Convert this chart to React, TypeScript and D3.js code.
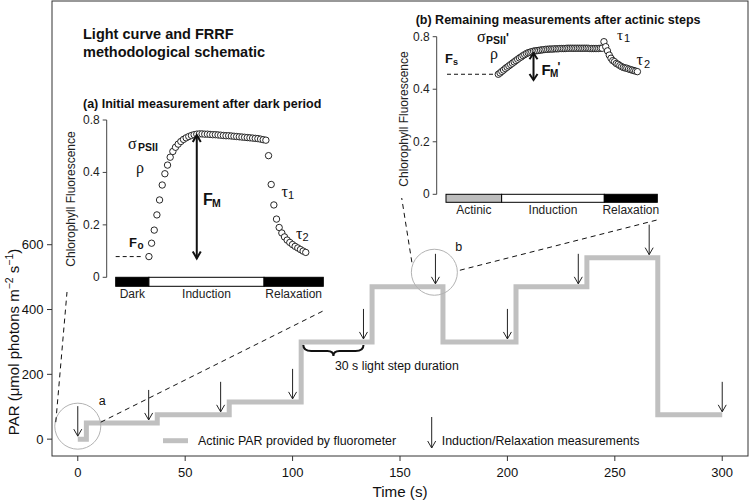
import React from 'react';
import * as d3 from 'd3';

const W = 750;
const H = 502;
const SANS = "'Liberation Sans', Arial, Helvetica, sans-serif";
const SERIF = "'Liberation Serif', 'Times New Roman', serif";

// ---------- main panel data ----------
const stepStartTimes = [0, 4, 37, 70.5, 104, 137, 170, 204, 237, 270];
const stepEndTime = 300;
const stepPar = [0, 50, 75, 115, 300, 470, 300, 470, 560, 75];
const measurementTimes = [0, 33, 66.5, 100, 133, 166.5, 200, 233, 266, 300];
const xTicks = [0, 50, 100, 150, 200, 250, 300];
const yTicks = [0, 200, 400, 600];
const zoomLabels = ['a', 'b'];
const zoomTimes = [0, 166];
const zoomPar = [40, 515];
const braceTimes = [105, 133];
const braceLabel = '30 s light step duration';

// ---------- inset (a) data ----------
const insetTicks = [0, 0.2, 0.4, 0.6];
const insetTickLabels = ['0', '0.2', '0.4', '0.8'];
const insetAPhases = ['Dark', 'Induction', 'Relaxation'];
const insetAPhaseBounds = [-12.5, 0, 43.3, 65.6];
const insetAPhaseFills = ['#000000', '#ffffff', '#000000'];
const insetAInduction = [
  0.079, 0.13, 0.18, 0.238, 0.295, 0.352, 0.395, 0.428, 0.458, 0.48, 0.496, 0.508, 0.518, 0.526, 0.532,
  0.537, 0.541, 0.544, 0.546, 0.547, 0.547, 0.546, 0.546, 0.545, 0.544, 0.544, 0.543, 0.542, 0.541, 0.54,
  0.54, 0.539, 0.538, 0.537, 0.536, 0.535, 0.534, 0.533, 0.532, 0.531, 0.53, 0.529, 0.527, 0.525, 0.523,
];
const insetARelaxation = [
  0.464, 0.354, 0.276, 0.222, 0.19, 0.169, 0.154, 0.142, 0.133, 0.125, 0.118, 0.112, 0.106, 0.1, 0.095,
];
const insetAFo = 0.079;
const insetAFmArrow = { idx: 18, from: 0.072, to: 0.543 };

// ---------- inset (b) data ----------
const insetBPhases = ['Actinic', 'Induction', 'Relaxation'];
const insetBPhaseBounds = [-29.7, 1.9, 60.2, 90.3];
const insetBPhaseFills = ['#bdbdbd', '#ffffff', '#000000'];
const insetBInduction = [
  0.457, 0.462, 0.468, 0.473, 0.479, 0.484, 0.489, 0.494, 0.499, 0.504, 0.509, 0.514, 0.519, 0.523, 0.528,
  0.532, 0.536, 0.539, 0.541, 0.543, 0.545, 0.546, 0.547, 0.548, 0.549, 0.55, 0.551, 0.552, 0.552, 0.553,
  0.553, 0.553, 0.554, 0.554, 0.554, 0.555, 0.555, 0.555, 0.555, 0.556, 0.556, 0.556, 0.556, 0.556, 0.556,
  0.556, 0.556, 0.556, 0.556, 0.556, 0.556, 0.556, 0.555, 0.555, 0.555, 0.555, 0.555, 0.555, 0.556, 0.556,
];
const insetBRelaxation = [
  0.581, 0.562, 0.546, 0.53, 0.518, 0.509, 0.505, 0.498, 0.495, 0.49, 0.486, 0.483, 0.481, 0.48, 0.477,
  0.475, 0.473, 0.471, 0.469, 0.467,
];
const insetBFs = 0.457;
const insetBFmArrow = { idx: 20, from: 0.435, to: 0.537 };

function parAt(t: number) {
  let v = stepPar[0];
  stepStartTimes.forEach((s, i) => {
    if (t >= s) v = stepPar[i];
  });
  return v;
}

function DownArrow({ x, y1, y2, color = '#222', w = 1, head = 4, hl = 7 }: any) {
  return (
    <g stroke={color} strokeWidth={w} fill="none">
      <line x1={x} y1={y1} x2={x} y2={y2} />
      <polyline points={`${x - head},${y2 - hl} ${x},${y2} ${x + head},${y2 - hl}`} />
    </g>
  );
}

function Inset({ xs, ys, phases, bounds, fills, values, axisX, titleX, titleY, barH }: any) {
  const y0 = ys(0);
  return (
    <g>
      <line x1={axisX} x2={axisX} y1={ys(0)} y2={ys(0.6)} stroke="#444" strokeWidth={1} />
      {insetTicks.map((t, i) => (
        <g key={i}>
          <line x1={axisX - 4} x2={axisX} y1={ys(t)} y2={ys(t)} stroke="#444" />
          <text x={axisX - 7} y={ys(t) + 4} textAnchor="end" fontSize={12} fontFamily={SANS} fill="#222">
            {insetTickLabels[i]}
          </text>
        </g>
      ))}
      <text
        transform={`translate(${titleX},${titleY}) rotate(-90)`}
        textAnchor="middle"
        fontSize={12}
        fontFamily={SANS}
        fill="#222"
      >
        Chlorophyll Fluorescence
      </text>
      {phases.map((p: string, i: number) => (
        <g key={p}>
          <rect
            x={xs(bounds[i])}
            y={y0}
            width={xs(bounds[i + 1]) - xs(bounds[i])}
            height={barH}
            fill={fills[i]}
            stroke="#000"
            strokeWidth={1}
          />
          <text
            x={(xs(bounds[i]) + xs(bounds[i + 1])) / 2}
            y={y0 + barH + 12}
            textAnchor="middle"
            fontSize={12}
            fontFamily={SANS}
            fill="#222"
          >
            {p}
          </text>
        </g>
      ))}
      {values.map((v: number, i: number) => (
        <circle key={i} cx={xs(i)} cy={ys(v)} r={3.2} fill="#fff" stroke="#111" strokeWidth={0.9} />
      ))}
    </g>
  );
}

export default function App() {
  const x = d3.scaleLinear().domain([-12, 312]).range([52, 748]);
  const y = d3.scaleLinear().domain([-52, 1352]).range([456, 1]);

  const stepPts: [number, number][] = stepStartTimes.map((t, i) => [t, stepPar[i]]);
  stepPts.push([stepEndTime, stepPar[stepPar.length - 1]]);
  const stepLine = d3
    .line<[number, number]>()
    .x((d) => x(d[0]))
    .y((d) => y(d[1]))
    .curve(d3.curveStepAfter)(stepPts) as string;

  // inset scales
  const xa = d3.scaleLinear().domain([insetAPhaseBounds[0], insetAPhaseBounds[3]]).range([115.7, 323.3]);
  const ya = d3.scaleLinear().domain([0, 0.6]).range([277.3, 120]);
  const xb = d3.scaleLinear().domain([insetBPhaseBounds[0], insetBPhaseBounds[3]]).range([446, 657.3]);
  const yb = d3.scaleLinear().domain([0, 0.6]).range([194.3, 36.7]);

  const valuesA = [...insetAInduction, ...insetARelaxation];
  const valuesB = [...insetBInduction, ...insetBRelaxation];

  // brace
  const bx1 = x(braceTimes[0]);
  const bx2 = x(braceTimes[1]);
  const bm = (bx1 + bx2) / 2;
  const byT = y(parAt(braceTimes[0])) + 3;
  const byM = byT + 6;
  const byB = byT + 11;
  const bracePath = `M${bx1},${byT} Q${bx1},${byM} ${bx1 + 8},${byM} L${bm - 6},${byM} Q${bm},${byM} ${bm},${byB} Q${bm},${byM} ${bm + 6},${byM} L${bx2 - 8},${byM} Q${bx2},${byM} ${bx2},${byT}`;

  const ca = { cx: x(zoomTimes[0]), cy: y(zoomPar[0]) };
  const cb = { cx: x(zoomTimes[1]), cy: y(zoomPar[1]) };

  return (
    <svg
      width={W}
      height={H}
      style={{ position: 'absolute', left: 0, top: 0, background: '#fff' }}
      fontFamily={SANS}
    >
      <rect x={0} y={0} width={W} height={H} fill="#fff" />
      {/* frame */}
      <rect x={52} y={1} width={696} height={455} fill="none" stroke="#333" strokeWidth={1} />

      {/* axes */}
      {xTicks.map((t) => (
        <g key={t}>
          <line x1={x(t)} x2={x(t)} y1={456} y2={461} stroke="#333" />
          <text x={x(t)} y={477} textAnchor="middle" fontSize={13} fill="#111">
            {t}
          </text>
        </g>
      ))}
      {yTicks.map((t) => (
        <g key={t}>
          <line x1={47} x2={52} y1={y(t)} y2={y(t)} stroke="#333" />
          <text x={43.5} y={y(t) + 4.5} textAnchor="end" fontSize={13} fill="#111">
            {t}
          </text>
        </g>
      ))}
      <text x={x(150)} y={497} textAnchor="middle" fontSize={15.2} fill="#111">
        Time (s)
      </text>
      <text transform={`translate(19,${y(300)}) rotate(-90)`} textAnchor="middle" fontSize={15} fill="#111">
        PAR (μmol photons m
        <tspan fontSize={10.5} dy={-6}>
          −2
        </tspan>
        <tspan dy={6}> s</tspan>
        <tspan fontSize={10.5} dy={-6}>
          −1
        </tspan>
        <tspan dy={6}>)</tspan>
      </text>

      {/* step line */}
      <path d={stepLine} fill="none" stroke="#c0c0c0" strokeWidth={5} strokeLinejoin="miter" />

      {/* measurement arrows */}
      {measurementTimes.map((t, i) => {
        const tip = y(parAt(t)) - 3;
        return <DownArrow key={i} x={x(t)} y1={tip - 30} y2={tip} />;
      })}

      {/* zoom circles */}
      {zoomLabels.map((l, i) => (
        <g key={l}>
          <circle cx={x(zoomTimes[i])} cy={y(zoomPar[i])} r={23} fill="none" stroke="#b3b3b3" strokeWidth={1} />
          <text x={x(zoomTimes[i]) + 21} y={y(zoomPar[i]) - 21} fontSize={12.5} fill="#111">
            {l}
          </text>
        </g>
      ))}

      {/* dashed connectors */}
      <g stroke="#111" strokeWidth={1} strokeDasharray="5,4" fill="none">
        <line x1={ca.cx - 22} y1={ca.cy - 4} x2={67} y2={292} />
        <line x1={ca.cx + 23} y1={ca.cy - 4} x2={325} y2={310} />
        <line x1={cb.cx - 22.5} y1={cb.cy - 10} x2={401.7} y2={198} />
        <line x1={cb.cx + 25.5} y1={cb.cy - 2} x2={657} y2={220} />
      </g>

      {/* brace */}
      <path d={bracePath} fill="none" stroke="#111" strokeWidth={2} />
      <text x={335} y={370} fontSize={12.3} fill="#111">
        {braceLabel}
      </text>

      {/* legend */}
      <line x1={163} x2={188} y1={440.7} y2={440.7} stroke="#c0c0c0" strokeWidth={5} />
      <text x={198} y={445} fontSize={12.4} fill="#111">
        Actinic PAR provided by fluorometer
      </text>
      <DownArrow x={431.7} y1={417} y2={448} />
      <text x={441.7} y={445} fontSize={12.4} fill="#111">
        Induction/Relaxation measurements
      </text>

      {/* main title */}
      <text x={83} y={39} fontSize={14.5} fontWeight="bold" fill="#111">
        Light curve and FRRF
      </text>
      <text x={83} y={57.3} fontSize={14.5} fontWeight="bold" fill="#111">
        methodological schematic
      </text>

      {/* ---------- inset (a) ---------- */}
      <text x={83} y={108.3} fontSize={12.5} fontWeight="bold" fill="#111">
        (a) Initial measurement after dark period
      </text>
      <line
        x1={xa(insetAPhaseBounds[0])}
        x2={xa(-2.2)}
        y1={ya(insetAFo)}
        y2={ya(insetAFo)}
        stroke="#111"
        strokeDasharray="4,3"
      />
      <Inset
        xs={xa}
        ys={ya}
        phases={insetAPhases}
        bounds={insetAPhaseBounds}
        fills={insetAPhaseFills}
        values={valuesA}
        axisX={106.7}
        titleX={75}
        titleY={199}
        barH={9}
      />
      <g stroke="#111" strokeWidth={2} fill="none">
        <line x1={xa(insetAFmArrow.idx)} x2={xa(insetAFmArrow.idx)} y1={ya(insetAFmArrow.to)} y2={ya(insetAFmArrow.from)} />
        <polyline
          points={`${xa(insetAFmArrow.idx) - 4},${ya(insetAFmArrow.to) + 7} ${xa(insetAFmArrow.idx)},${ya(insetAFmArrow.to)} ${xa(insetAFmArrow.idx) + 4},${ya(insetAFmArrow.to) + 7}`}
        />
        <polyline
          points={`${xa(insetAFmArrow.idx) - 4},${ya(insetAFmArrow.from) - 7} ${xa(insetAFmArrow.idx)},${ya(insetAFmArrow.from)} ${xa(insetAFmArrow.idx) + 4},${ya(insetAFmArrow.from) - 7}`}
        />
      </g>
      {/* inset a annotations */}
      <text x={128} y={148.5} fontSize={16} fontFamily={SERIF} fill="#111">σ</text>
      <text x={138} y={151} fontSize={10.5} fontWeight="bold" fill="#111">PSII</text>
      <text x={136} y={173} fontSize={16} fontFamily={SERIF} fill="#111">ρ</text>
      <text x={129} y={246.5} fontSize={13} fontWeight="bold" fill="#111">F</text>
      <text x={137.5} y={248.5} fontSize={10} fontWeight="bold" fill="#111">o</text>
      <text x={203} y={205} fontSize={16} fontWeight="bold" fill="#111">F</text>
      <text x={212} y={206.5} fontSize={10.5} fontWeight="bold" fill="#111">M</text>
      <text x={281.5} y={197} fontSize={16} fontFamily={SERIF} fill="#111">τ</text>
      <text x={288} y={199} fontSize={11} fill="#111">1</text>
      <text x={296} y={239} fontSize={16} fontFamily={SERIF} fill="#111">τ</text>
      <text x={302.5} y={241} fontSize={11} fill="#111">2</text>

      {/* ---------- inset (b) ---------- */}
      <text x={415.7} y={24} fontSize={12.5} fontWeight="bold" fill="#111">
        (b)  Remaining measurements after actinic steps
      </text>
      <line
        x1={xb(insetBPhaseBounds[0]) + 1}
        x2={xb(-1.5)}
        y1={yb(insetBFs)}
        y2={yb(insetBFs)}
        stroke="#111"
        strokeDasharray="4,3"
      />
      <Inset
        xs={xb}
        ys={yb}
        phases={insetBPhases}
        bounds={insetBPhaseBounds}
        fills={insetBPhaseFills}
        values={valuesB}
        axisX={436.7}
        titleX={407.5}
        titleY={119}
        barH={8}
      />
      <g stroke="#111" strokeWidth={2} fill="none">
        <line x1={xb(insetBFmArrow.idx)} x2={xb(insetBFmArrow.idx)} y1={yb(insetBFmArrow.to)} y2={yb(insetBFmArrow.from)} />
        <polyline
          points={`${xb(insetBFmArrow.idx) - 4},${yb(insetBFmArrow.to) + 6} ${xb(insetBFmArrow.idx)},${yb(insetBFmArrow.to)} ${xb(insetBFmArrow.idx) + 4},${yb(insetBFmArrow.to) + 6}`}
        />
        <polyline
          points={`${xb(insetBFmArrow.idx) - 4},${yb(insetBFmArrow.from) - 6} ${xb(insetBFmArrow.idx)},${yb(insetBFmArrow.from)} ${xb(insetBFmArrow.idx) + 4},${yb(insetBFmArrow.from) - 6}`}
        />
      </g>
      {/* inset b annotations */}
      <text x={477} y={41.5} fontSize={16} fontFamily={SERIF} fill="#111">σ</text>
      <text x={486} y={44} fontSize={10.5} fontWeight="bold" fill="#111">PSII</text>
      <text x={506} y={42} fontSize={12} fontWeight="bold" fill="#111">'</text>
      <text x={490} y={59} fontSize={16} fontFamily={SERIF} fill="#111">ρ</text>
      <text x={445} y={63.3} fontSize={13} fontWeight="bold" fill="#111">F</text>
      <text x={453} y={64.5} fontSize={9} fontWeight="bold" fill="#111">s</text>
      <text x={541.5} y={74.5} fontSize={15} fontWeight="bold" fill="#111">F</text>
      <text x={550} y={76.5} fontSize={10} fontWeight="bold" fill="#111">M</text>
      <text x={557.5} y={71} fontSize={12} fontWeight="bold" fill="#111">'</text>
      <text x={617} y={39.5} fontSize={15} fontFamily={SERIF} fill="#111">τ</text>
      <text x={624} y={41.5} fontSize={11} fill="#111">1</text>
      <text x={636.5} y={65} fontSize={16} fontFamily={SERIF} fill="#111">τ</text>
      <text x={644} y={67.5} fontSize={11} fill="#111">2</text>
    </svg>
  );
}
